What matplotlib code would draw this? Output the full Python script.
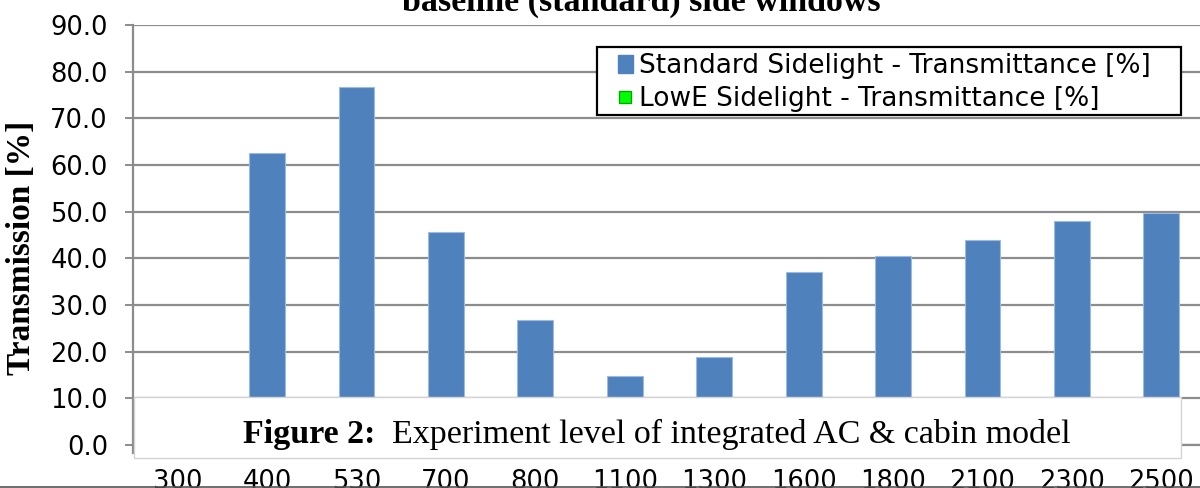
import matplotlib
matplotlib.use("Agg")
import matplotlib.pyplot as plt
from matplotlib.patches import Rectangle, Patch
from matplotlib.lines import Line2D

categories = ["300", "400", "530", "700", "800", "1100", "1300", "1600", "1800", "2100", "2300", "2500"]
standard = [0.0, 62.6, 76.7, 45.6, 26.8, 14.8, 18.8, 37.1, 40.5, 44.0, 48.0, 49.7]
y_ticks = [0, 10, 20, 30, 40, 50, 60, 70, 80, 90]
legend_labels = ["Standard Sidelight - Transmittance [%]", "LowE Sidelight - Transmittance [%]"]
title_text = "baseline (standard) side windows"
ylabel_text = "Transmission [%]"
caption_bold = "Figure 2:"
caption_rest = "  Experiment level of integrated AC & cabin model"

W, H = 1200, 488
fig = plt.figure(figsize=(W / 100, H / 100), dpi=100)

def fx(px):
    return px / W

def fy(py):
    return 1 - py / H

ax_left, ax_right, ax_top, ax_bottom = 133, 1206, 25, 445
ax = fig.add_axes([fx(ax_left), fy(ax_bottom), fx(ax_right - ax_left), (ax_bottom - ax_top) / H])

grid_c = "#8c8c8c"
x = list(range(len(categories)))
ax.bar(x, standard, width=0.40, color="#4f81bd", edgecolor="#9dbbe0", linewidth=0.8, zorder=3)
ax.set_xlim(-0.5, len(categories) - 0.5)
ax.set_ylim(0, 90)
ax.set_yticks(y_ticks)
ax.set_yticklabels([f"{v:.1f}" for v in y_ticks], fontsize=18.5, family="DejaVu Sans")
ax.set_xticks(x)
ax.set_xticklabels(categories, fontsize=18.5, family="DejaVu Sans")
ax.tick_params(axis="x", length=0, pad=17)
ax.tick_params(axis="y", length=6, width=1.4, color=grid_c, pad=12)
for s in ["top", "right", "left"]:
    ax.spines[s].set_visible(False)
ax.spines["bottom"].set_color(grid_c)
ax.spines["bottom"].set_linewidth(1.6)
ax.yaxis.grid(True, color=grid_c, linewidth=1.6, zorder=0)
ax.set_axisbelow(True)
# y axis line extending a little below zero
ax.plot([0, 0], [-1.8, 90], transform=ax.get_yaxis_transform(), color=grid_c,
        linewidth=1.6, clip_on=False, zorder=4)

# legend frame drawn separately for exact padding
fig.add_artist(Rectangle((fx(597), fy(115)), fx(1181 - 597), (115 - 47) / H,
                         transform=fig.transFigure, facecolor="white", edgecolor="black",
                         linewidth=1.6, zorder=3))
handles = [Patch(facecolor="#4f81bd", edgecolor="#4f81bd"),
           Line2D([], [], color="#00ff00", marker="s", markersize=8, linestyle="-", linewidth=0,
                  markerfacecolor="#00ff00", markeredgecolor="#00aa00")]
leg = fig.legend(handles, legend_labels, loc="upper left",
                 bbox_to_anchor=(fx(618), fy(53)), frameon=False,
                 handlelength=0.55, handleheight=0.7, handletextpad=0.25, borderpad=0,
                 labelspacing=0.28, borderaxespad=0,
                 prop={"family": "DejaVu Sans", "size": 19})
leg.set_zorder(4)

# title (partly cut off at top, as in the source)
fig.text(fx(641), fy(11), title_text, ha="center", va="baseline", fontsize=24.5,
         fontweight="bold", family="Liberation Serif")

# y label
fig.text(fx(22), fy(248), ylabel_text, ha="center", va="center", rotation=90, fontsize=24,
         fontweight="bold", family="Liberation Serif")

# caption box overlaying bottom of chart
fig.add_artist(Rectangle((fx(134), fy(458)), fx(1181 - 134), (458 - 397) / H,
                         transform=fig.transFigure, facecolor="white", edgecolor="#d4d4d4",
                         linewidth=1, zorder=5))
t1 = fig.text(fx(243), fy(443), caption_bold, ha="left", va="baseline", fontsize=24.5,
              fontweight="bold", family="Liberation Serif", zorder=6)
fig.canvas.draw()
bb = t1.get_window_extent(renderer=fig.canvas.get_renderer())
fig.text(bb.x1 / W, fy(443), caption_rest, ha="left", va="baseline", fontsize=24.5,
         family="Liberation Serif", zorder=6)

# bottom rule
fig.add_artist(Line2D([0, 1], [fy(487), fy(487)], transform=fig.transFigure, color="#555555",
                      linewidth=1.2, zorder=6))

fig.savefig("out.png", dpi=100)
